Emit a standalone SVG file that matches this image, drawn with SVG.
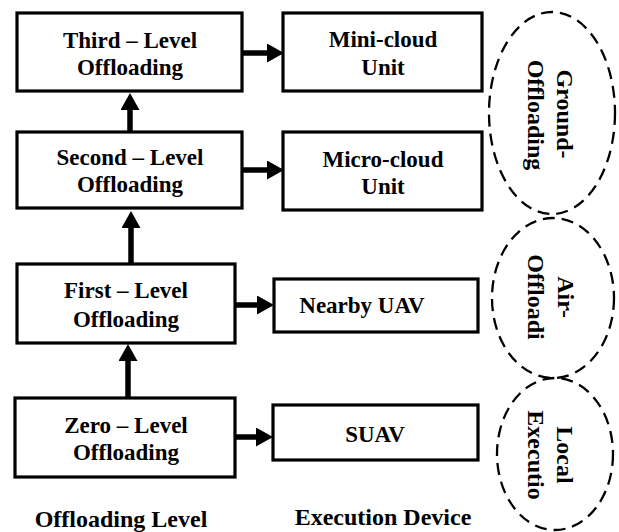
<svg xmlns="http://www.w3.org/2000/svg" width="619" height="532" viewBox="0 0 619 532">
<style>
.box{fill:#fff;stroke:#000;stroke-width:3.2}
.t{font-family:"Liberation Serif","Times New Roman",serif;font-weight:bold;font-size:23px;fill:#000;text-anchor:middle}
.tl{font-family:"Liberation Serif","Times New Roman",serif;font-weight:bold;font-size:24px;fill:#000;text-anchor:middle}
.ell{fill:none;stroke:#000;stroke-width:2.3;stroke-dasharray:12 7}
.conn{stroke:#000;stroke-width:5.5;fill:none}
</style>
<defs>
<marker id="ah" viewBox="0 0 17 19" refX="0" refY="9.5" markerWidth="17" markerHeight="19" markerUnits="userSpaceOnUse" orient="auto">
<path d="M0,0 L17,9.5 L0,19 z" fill="#000"/>
</marker>
</defs>
<rect width="619" height="532" fill="#fff"/>
<g id="ground-offloading">
<ellipse class="ell" cx="552" cy="113" rx="63" ry="101"/>
<text class="tl" transform="translate(557,114) rotate(90)">Ground-</text>
<text class="tl" transform="translate(528,115) rotate(90)">Offloading</text>
</g>
<g id="air-offloading">
<ellipse class="ell" cx="553" cy="298" rx="61" ry="80"/>
<text class="tl" transform="translate(558,297) rotate(90)">Air-</text>
<text class="tl" transform="translate(528,297) rotate(90)">Offloadi</text>
</g>
<g id="local-execution">
<ellipse class="ell" cx="555" cy="454" rx="58" ry="76"/>
<text class="tl" transform="translate(557,455) rotate(90)">Local</text>
<text class="tl" transform="translate(528,455) rotate(90)">Executio</text>
</g>
<g id="third-level">
<rect class="box" x="17" y="13" width="225" height="78"/>
<text class="t" x="130" y="48">Third – Level</text>
<text class="t" x="130" y="75">Offloading</text>
</g>
<g id="mini-cloud">
<rect class="box" x="283" y="13" width="199" height="78"/>
<text class="t" x="383" y="47">Mini-cloud</text>
<text class="t" x="383" y="75">Unit</text>
</g>
<g id="second-level">
<rect class="box" x="17" y="132" width="225" height="76"/>
<text class="t" x="130" y="165">Second – Level</text>
<text class="t" x="130" y="192">Offloading</text>
</g>
<g id="micro-cloud">
<rect class="box" x="283" y="132" width="199" height="78"/>
<text class="t" x="383" y="167">Micro-cloud</text>
<text class="t" x="383" y="194">Unit</text>
</g>
<g id="first-level">
<rect class="box" x="17" y="264" width="218" height="79"/>
<text class="t" x="126" y="298">First – Level</text>
<text class="t" x="126" y="327">Offloading</text>
</g>
<g id="nearby-uav">
<rect class="box" x="274" y="279" width="204" height="53"/>
<text class="t" x="362" y="313">Nearby UAV</text>
</g>
<g id="zero-level">
<rect class="box" x="15" y="398" width="220" height="79"/>
<text class="t" x="126" y="433">Zero – Level</text>
<text class="t" x="126" y="460">Offloading</text>
</g>
<g id="suav">
<rect class="box" x="273" y="405" width="205" height="55"/>
<text class="t" x="375" y="442">SUAV</text>
</g>
<g id="connectors">
<line class="conn" x1="242" y1="53" x2="267" y2="53" marker-end="url(#ah)"/>
<line class="conn" x1="242" y1="170" x2="267" y2="170" marker-end="url(#ah)"/>
<line class="conn" x1="235" y1="305" x2="257" y2="305" marker-end="url(#ah)"/>
<line class="conn" x1="235" y1="437" x2="256" y2="437" marker-end="url(#ah)"/>
<line class="conn" x1="130" y1="132" x2="130" y2="110" marker-end="url(#ah)"/>
<line class="conn" x1="131" y1="264" x2="131" y2="228" marker-end="url(#ah)"/>
<line class="conn" x1="128" y1="398" x2="128" y2="361" marker-end="url(#ah)"/>
</g>
<g id="labels">
<text class="tl" x="121" y="527">Offloading Level</text>
<text class="tl" x="383" y="525">Execution Device</text>
</g>
</svg>
